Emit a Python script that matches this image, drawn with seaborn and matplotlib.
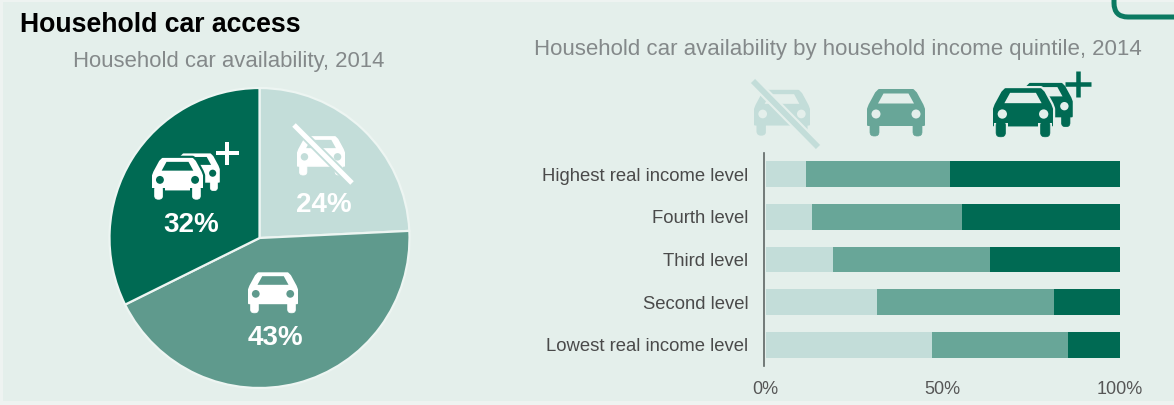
import matplotlib
matplotlib.use("Agg")
import matplotlib.pyplot as plt
from matplotlib.patches import Circle, FancyBboxPatch, Polygon, Rectangle, PathPatch
from matplotlib.path import Path
import pandas as pd
import seaborn as sns

# Household car availability, 2014 (share of households, %)
pie_labels = ["No car", "One car", "Two or more cars"]
pie_values = [24, 43, 32]

# Availability by income quintile (share of households, %)
income_levels = [
    "Highest real income level",
    "Fourth level",
    "Third level",
    "Second level",
    "Lowest real income level",
]
no_car = [11.5, 13.0, 19.0, 31.5, 47.0]
one_car = [40.5, 42.5, 44.5, 50.0, 38.5]
two_plus = [48.0, 44.5, 36.5, 18.5, 14.5]
x_ticks = [0, 50, 100]

BG = "#E4EFEB"
EDGE = "#EEF3F1"
LIGHT = "#C3DDD9"
MID_BAR = "#68A698"
MID_PIE = "#5F9A8D"
DARK = "#006A53"
W, H = 1174, 405

sns.set_theme(style="white")
plt.rcParams["font.family"] = ["Liberation Sans", "DejaVu Sans"]

fig = plt.figure(figsize=(W / 100, H / 100), dpi=100, facecolor=EDGE)

# Tinted panel, leaving a pale margin around it
fig.add_artist(
    Rectangle((3 / W, 1 - 401 / H), (W - 3) / W, 399 / H, transform=fig.transFigure,
              fc=BG, ec="none", zorder=-1)
)


def px_axes(left, top, right, bottom, **kw):
    return fig.add_axes(
        [left / W, 1 - bottom / H, (right - left) / W, (bottom - top) / H], **kw
    )


# Pie of overall availability, clockwise from twelve o'clock
pie_ax = px_axes(107.5, 86, 411.5, 390)
pie_ax.pie(
    pie_values,
    colors=[LIGHT, MID_PIE, DARK],
    startangle=90,
    counterclock=False,
    radius=1.0,
    wedgeprops={"edgecolor": "#EDF5F2", "linewidth": 1.6},
)
pie_ax.set_xlim(-152 / 150, 152 / 150)
pie_ax.set_ylim(-152 / 150, 152 / 150)

# Stacked bars, painted from the full stack down to the shortest segment
frame = pd.DataFrame(
    {"level": income_levels, "no_car": no_car, "one_car": one_car, "two_plus": two_plus}
)
frame["to_no"] = frame["no_car"]
frame["to_one"] = frame["no_car"] + frame["one_car"]
frame["to_two"] = frame["to_one"] + frame["two_plus"]

bar_ax = px_axes(765.5, 153, 1119.5, 366)
bar_ax.set_facecolor("none")
for col, color in [("to_two", DARK), ("to_one", MID_BAR), ("to_no", LIGHT)]:
    sns.barplot(
        data=frame,
        x=col,
        y="level",
        color=color,
        saturation=1,
        width=0.61,
        order=income_levels,
        ax=bar_ax,
        linewidth=0,
    )
bar_ax.set_xlim(0, 100)
bar_ax.set_ylim(4.5, -0.5)
bar_ax.set_xlabel("")
bar_ax.set_ylabel("")
bar_ax.set_xticks(x_ticks, [f"{t}%" for t in x_ticks])
bar_ax.tick_params(axis="x", length=0, pad=11, labelsize=13, labelcolor="#565656")
bar_ax.tick_params(axis="y", length=0, pad=11.5, labelsize=13.3, labelcolor="#4A4A4A")
sns.despine(ax=bar_ax, left=False, bottom=True)
bar_ax.spines["left"].set_color("#5E6664")
bar_ax.spines["left"].set_linewidth(1.2)
bar_ax.spines["left"].set_position(("outward", 1))

# Transparent overlay in pixel coordinates for titles and icons
ov = fig.add_axes([0, 0, 1, 1], facecolor="none")
ov.set_xlim(0, W)
ov.set_ylim(H, 0)
ov.axis("off")

BODY = [(-17, -23), (17, -23), (20, -20), (26.5, -8), (28, -4), (28, 12),
        (-28, 12), (-28, -4), (-26.5, -8), (-20, -20)]
SCREEN = [(-12.5, -19.5), (12.5, -19.5), (18, -9.5), (-18, -9.5)]


def car(cx, cy, width, color, hole, zorder=5, halo=0.0):
    """Front view of a car, centred on (cx, cy), with windscreen and lights cut out."""
    s = width / 58
    pts = lambda p: [(cx + x * s, cy + y * s) for x, y in p]
    edge_lw = 2 * s * 0.72
    if halo:
        ov.add_patch(Polygon(pts(BODY), closed=True, fc=hole, ec=hole,
                             lw=edge_lw + 2 * halo * 0.72, joinstyle="round", zorder=zorder))
    ov.add_patch(Polygon(pts(BODY), closed=True, fc=color, ec=color, lw=edge_lw,
                         joinstyle="round", zorder=zorder))
    for wx in (-21.5, 21.5):
        if halo:
            ov.add_patch(Rectangle((cx + (wx - 4.5) * s - halo, cy + 10 * s), 9 * s + 2 * halo, 13 * s + halo,
                                   fc=hole, ec="none", zorder=zorder))
        ov.add_patch(
            FancyBboxPatch(
                (cx + (wx - 4.5) * s, cy + 8 * s), 9 * s, 15 * s,
                boxstyle=f"round,pad=0,rounding_size={4 * s}",
                fc=color, ec=color, lw=0.5, zorder=zorder,
            )
        )
        ov.add_patch(Circle((cx + (wx * 0.93) * s, cy + 1 * s), 4.5 * s, fc=hole, ec="none", zorder=zorder + 1))
    ov.add_patch(Polygon(pts(SCREEN), closed=True, fc=hole, ec="none", zorder=zorder + 1))


def crossed_car(cx, cy, width, color, hole, start, end):
    car(cx, cy, width, color, hole)
    ov.plot(*zip(start, end), color=hole, lw=width * 0.13, solid_capstyle="butt", zorder=7)
    ov.plot(*zip(start, end), color=color, lw=width * 0.075, solid_capstyle="butt", zorder=8)


def many_cars(cx, cy, width, color, hole, plus_xy, plus_half):
    s = width / 58
    car(cx + 22 * s, cy - 7.5 * s, width * 0.9, color, hole, zorder=5)
    car(cx, cy, width, color, hole, zorder=7, halo=2.2)
    px, py = plus_xy
    lw = plus_half * 0.25
    ov.plot([px - plus_half, px + plus_half], [py, py], color=color, lw=lw, solid_capstyle="butt", zorder=9)
    ov.plot([px, px], [py - plus_half, py + plus_half], color=color, lw=lw, solid_capstyle="butt", zorder=9)


# Icons on the pie
crossed_car(321, 156, 48, "white", LIGHT, (294, 125), (352, 183))
car(273, 293, 50, "white", MID_PIE)
many_cars(177.5, 179, 51, "white", DARK, (227, 153), 11.5)

# Legend icons above the bars
crossed_car(782, 113, 56, LIGHT, BG, (753, 81), (818, 147))
car(896, 113, 58, MID_BAR, BG)
many_cars(1023, 113, 60, DARK, BG, (1078, 84), 13)

# Slice percentages
for x, y, s in [(324, 205, "24%"), (275, 338, "43%"), (191, 225, "32%")]:
    ov.text(x, y, s, color="white", fontsize=20, fontweight="bold", ha="center", va="center", zorder=10)

# Titles
ov.text(20, 24.5, "Household car access", fontsize=19.2, fontweight="bold", color="black", ha="left", va="center")
ov.text(228.5, 61.5, "Household car availability, 2014", fontsize=15.9, color="#84898A", ha="center", va="center")
ov.text(837.5, 50, "Household car availability by household income quintile, 2014", fontsize=16, color="#84898A", ha="center", va="center")

# Corner of a rounded panel at the top right
corner = Path(
    [(1114, -2), (1114, 3), (1114, 17), (1128, 17), (1176, 17)],
    [Path.MOVETO, Path.LINETO, Path.CURVE3, Path.CURVE3, Path.LINETO],
)
ov.add_patch(PathPatch(corner, fc="none", ec="#0B7A62", lw=3.6))

fig.savefig("out.png", dpi=100, facecolor=EDGE)
